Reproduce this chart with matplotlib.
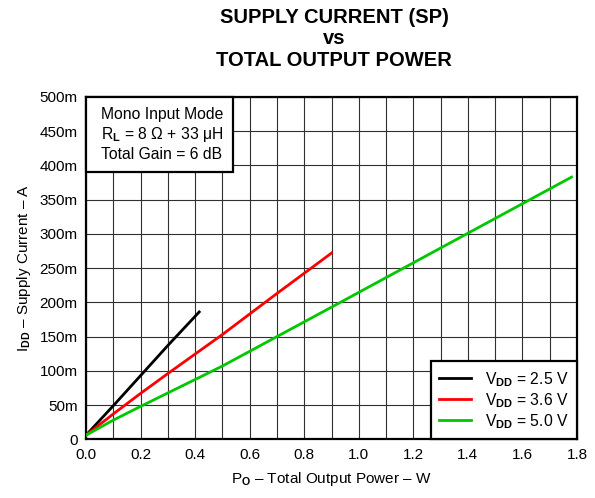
import matplotlib
matplotlib.use('Agg')
import matplotlib.pyplot as plt
from matplotlib.patches import Rectangle
from matplotlib.ticker import MultipleLocator, FuncFormatter

plt.rcParams['font.family'] = ['Liberation Sans', 'DejaVu Sans']
plt.rcParams['mathtext.fontset'] = 'custom'
plt.rcParams['mathtext.rm'] = 'Liberation Sans'
plt.rcParams['mathtext.it'] = 'Liberation Sans:italic'
plt.rcParams['mathtext.bf'] = 'Liberation Sans:bold'

# datos leidos da figura (P em W, I em A)
p_25 = [0.0, 0.1, 0.2, 0.3, 0.415]
i_25 = [0.006, 0.049, 0.093, 0.137, 0.186]

p_36 = [0.0, 0.1, 0.2, 0.3, 0.5, 0.7, 0.9]
i_36 = [0.006, 0.037, 0.067, 0.096, 0.153, 0.213, 0.272]

p_50 = [0.0, 0.1, 0.2, 0.5, 0.9, 1.4, 1.78]
i_50 = [0.006, 0.028, 0.048, 0.107, 0.193, 0.301, 0.383]

rotulos = [r'V$_\mathbf{DD}$ = 2.5 V', r'V$_\mathbf{DD}$ = 3.6 V', r'V$_\mathbf{DD}$ = 5.0 V']
cores = ['#000000', '#ff0000', '#00c800']

fig = plt.figure(figsize=(5.95, 4.98), dpi=100)
ax = fig.add_axes([86/595, 1 - 439.3/498, (577-86)/595, (439.3-97)/498])

ax.plot(p_25, i_25, color=cores[0], lw=2, label=rotulos[0], zorder=3)
ax.plot(p_36, i_36, color=cores[1], lw=2, label=rotulos[1], zorder=3)
ax.plot(p_50, i_50, color=cores[2], lw=2, label=rotulos[2], zorder=3)

ax.set_xlim(0, 1.8)
ax.set_ylim(0, 0.5)
ax.xaxis.set_major_locator(MultipleLocator(0.2))
ax.xaxis.set_minor_locator(MultipleLocator(0.1))
ax.yaxis.set_major_locator(MultipleLocator(0.05))
ax.xaxis.set_major_formatter(FuncFormatter(lambda v, p: f'{v:.1f}'))
ax.yaxis.set_major_formatter(FuncFormatter(lambda v, p: '0' if abs(v) < 1e-9 else f'{round(v*1000):d}m'))

ax.grid(True, which='both', color='#303030', lw=0.8)
ax.tick_params(which='both', length=0, labelsize=11, pad=6)
for s in ax.spines.values():
    s.set_linewidth(1.6)

ax.set_xlabel(r'P$_\mathbf{O}$ – Total Output Power – W', fontsize=11, labelpad=6)
ax.set_ylabel(r'I$_\mathbf{DD}$ – Supply Current – A', fontsize=11, labelpad=5)

# titulo
fig.text(334/595, 1 - 8/498, 'SUPPLY CURRENT (SP)\nvs\nTOTAL OUTPUT POWER',
         ha='center', va='top', fontsize=14.5, fontweight='bold', linespacing=1.15)

# caixa de condicoes no canto
caixa = Rectangle((0, 1), (233-86)/491, -(172-97)/342.3, transform=ax.transAxes,
                  fc='white', ec='black', lw=1.6, zorder=5, clip_on=False)
ax.add_patch(caixa)
ax.text(0.031, 1 - (172-97)/342.3/2, 'Mono Input Mode\n' + r'R$_\mathbf{L}$ = 8 Ω + 33 μH' + '\nTotal Gain = 6 dB',
        transform=ax.transAxes, ha='left', va='center', fontsize=11.3, linespacing=1.25, zorder=6)

leg = ax.legend(loc='lower right', fontsize=11.3, frameon=True, fancybox=False,
                edgecolor='black', framealpha=1, borderaxespad=0, handlelength=2.0,
                labelspacing=0.15, borderpad=0.55, handletextpad=0.9)
leg.get_frame().set_linewidth(1.6)
leg.set_zorder(5)

plt.savefig('out.png', dpi=100)
